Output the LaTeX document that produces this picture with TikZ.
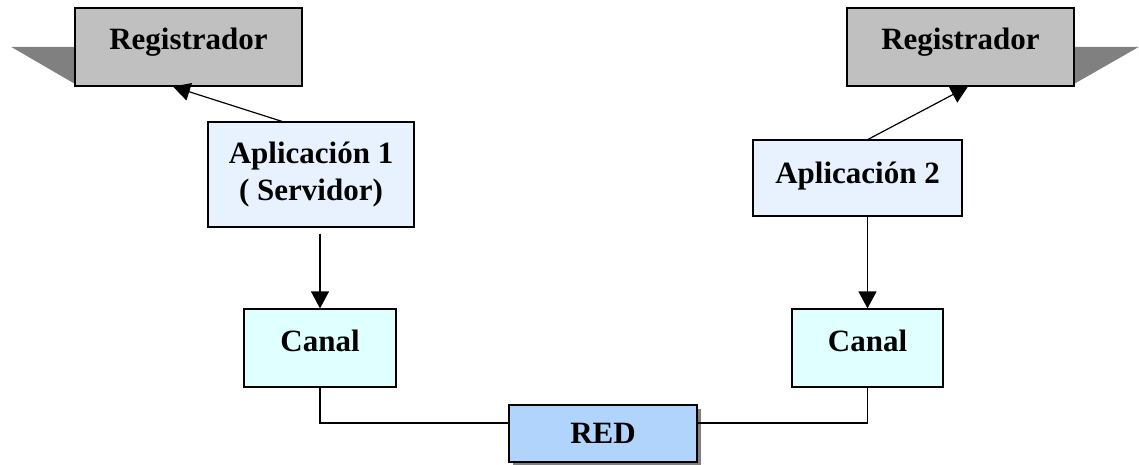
\documentclass[tikz,border=0pt]{standalone}
\usepackage{fontspec}
\setmainfont{Liberation Serif}
\usepackage{tikz}
\usetikzlibrary{arrows.meta, positioning, shadows, backgrounds}
\usepackage{xcolor}
\definecolor{regfill}{HTML}{C0C0C0}
\definecolor{shadowgray}{HTML}{808080}
\definecolor{appfill}{HTML}{E8F2FE}
\definecolor{canalfill}{HTML}{E0FFFF}
\definecolor{redfill}{HTML}{B0D4FC}

\begin{document}
\begin{tikzpicture}[x=1pt, y=-1pt,
            box/.style={draw, rectangle, line width=1.2pt, inner sep=0pt,
                font=\bfseries\fontsize{31}{37}\selectfont, align=center},
            regbox/.style={box, fill=regfill, minimum width=227pt, minimum height=78pt,
                text height=21pt, text depth=15pt},
            appbox/.style={box, fill=appfill},
            canalbox/.style={box, fill=canalfill, minimum height=78pt,
                text height=21pt, text depth=15pt},
            arr/.style={-{Triangle[length=17pt, width=18pt]}, line width=1.2pt},
            link/.style={line width=1.2pt}]
            \useasboundingbox (0,0) rectangle (1139,465);
            % Nodes
            \node[regbox] (reg1) at (188.5,47) {Registrador};
            \node[regbox] (reg2) at (960.5,47) {Registrador};
            \node[appbox, minimum width=206pt, minimum height=105pt] (app1) at (311,174.5)
                {Aplicación 1\\( Servidor)};
            \node[appbox, minimum width=209pt, minimum height=76pt,
                text height=21pt, text depth=10pt] (app2) at (857.5,178) {Aplicación 2};
            \node[canalbox, minimum width=152pt] (canal1) at (320,348) {Canal};
            \node[canalbox, minimum width=151pt] (canal2) at (867.5,348) {Canal};
            \node[box, fill=redfill, minimum width=188pt, minimum height=57pt,
                drop shadow={shadow xshift=4pt, shadow yshift=-4pt, fill=shadowgray, opacity=1}]
                (red) at (603,433.5) {RED};
            % Shadows
            \begin{scope}[on background layer]
                \fill[shadowgray] (reg1.west) -- ([xshift=-63pt]reg1.west)
                    -- ([yshift=3pt]reg1.south west) -- cycle;
                \fill[shadowgray] (reg2.east) -- ([xshift=64pt]reg2.east)
                    -- ([yshift=3pt]reg2.south east) -- cycle;
            \end{scope}
            % Arrows
            \draw[arr] ([xshift=-29pt]app1.north) -- ([xshift=-15.5pt]reg1.south);
            \draw[arr] ([xshift=10.5pt]app2.north) -- ([xshift=7.5pt]reg2.south);
            \draw[arr, shorten <=6pt] (canal1 |- app1.south) -- (canal1);
            \draw[arr] (canal2 |- app2.south) -- (canal2);
            \draw[link] (canal1.south) |- ([yshift=10.5pt]red.west);
            \draw[link] (canal2.south) |- ([yshift=10.5pt]red.east);
        \end{tikzpicture}
\end{document}
